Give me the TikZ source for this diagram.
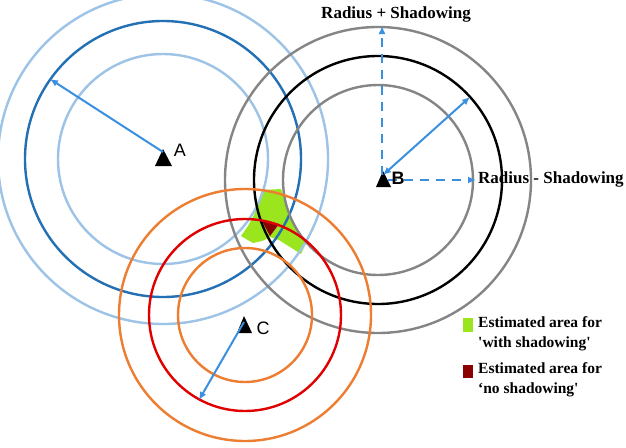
\documentclass[tikz,border=0pt]{standalone}
\usepackage{fontspec}
\setmainfont{Liberation Serif}
\newfontfamily\labelfont{Liberation Sans}
\usetikzlibrary{arrows.meta}
\definecolor{ltblue}{HTML}{9DC3E6}
\definecolor{dkblue}{HTML}{2470B4}
\definecolor{ringgray}{HTML}{858585}
\definecolor{orng}{HTML}{ED7D31}
\definecolor{rred}{HTML}{E00000}
\definecolor{arrblue}{HTML}{3B8FE0}
\definecolor{grn}{HTML}{9BE51E}
\definecolor{drd}{HTML}{8B0000}
\begin{document}
\begin{tikzpicture}[x=1pt,y=-1pt,
  ringline/.style={line width=2.4pt},
  ptr/.style={arrblue, line width=2pt, -{Latex[length=8pt,width=7pt]}},
  dptr/.style={arrblue, line width=2pt, {Latex[length=8pt,width=7pt]}-{Latex[length=8pt,width=7pt]}},
  dashptr/.style={arrblue, line width=2pt, dash pattern=on 9pt off 7pt, -{Latex[length=8pt,width=7pt]}},
  sitelabel/.style={font=\labelfont\fontsize{18}{18}\selectfont, inner sep=0pt},
  bigtext/.style={font=\bfseries\fontsize{17}{17}\selectfont, inner sep=0pt},
  legtext/.style={font=\bfseries\fontsize{15.5}{15.5}\selectfont, inner sep=0pt, anchor=base west},
  marker/.style={fill=black}
]
\useasboundingbox (0,0) rectangle (626,447);
\clip (0,0) rectangle (626,447);
\fill[white] (0,0) rectangle (626,447);

\coordinate (A) at (163,159);
\coordinate (B) at (378,180);
\coordinate (C) at (245,315);

% estimated areas
\fill[grn] (262,190) -- (281,189) -- (286,202) -- (290,217) -- (297,229) -- (306,243) -- (301,254)
  -- (290,247) -- (279,240) -- (270,237) -- (262,241) -- (253,243) -- (241,236) -- (248,226)
  -- (254,215) -- (258,202) -- cycle;
\fill[drd] (262,221) -- (279,224) -- (270,236) -- cycle;

% rings of A
\draw[ringline, ltblue] (A) circle[radius=165pt];
\draw[ringline, dkblue] (A) circle[radius=138pt];
\draw[ringline, ltblue] (A) circle[radius=105pt];
% rings of B
\draw[ringline, ringgray] (B) circle[radius=153pt];
\draw[ringline, black] (B) circle[radius=124pt];
\draw[ringline, ringgray] (B) circle[radius=95pt];
% rings of C
\draw[ringline, orng] (C) circle[radius=126pt];
\draw[ringline, rred] (C) circle[radius=96pt];
\draw[ringline, orng] (C) circle[radius=67pt];

% markers
\fill[marker] (163,149) -- (172,166) -- (155,166) -- cycle;
\fill[marker] (383,171) -- (391,187) -- (376,187) -- cycle;
\fill[marker] (244,316) -- (252,333) -- (237,333) -- cycle;

% radius arrows
\coordinate (Atip) at (50,79);
\coordinate (Afoot) at (163,152);
\draw[ptr] (Afoot) -- (Atip);
\coordinate (Ctip) at (199,400);
\coordinate (Cfoot) at (244,322);
\draw[ptr] (Cfoot) -- (Ctip);
\coordinate (Btip) at (470,97);
\coordinate (Bfoot) at (383,175);
\draw[dptr] (Bfoot) -- (Btip);

% shadowing arrows
\coordinate (Bup) at (382,175);
\coordinate (Buptip) at (382,26);
\draw[dashptr] (Bup) -- (Buptip);
\coordinate (Bright) at (388,180);
\coordinate (Brighttip) at (476,180);
\draw[dashptr] (Bright) -- (Brighttip);

% labels
\node[sitelabel] (labA) at (180,150) {A};
\node[sitelabel, font=\labelfont\bfseries\fontsize{18}{18}\selectfont] (labB) at (398,178) {B};
\node[sitelabel] (labC) at (263,328) {C};
\node[bigtext] (plus) at (396,14) {Radius + Shadowing};
\node[bigtext, anchor=west] (minus) at (478,179) {Radius - Shadowing};

% legend
\fill[grn] (463,318) rectangle (473,332);
\fill[drd] (463,365) rectangle (473,378);
\node[legtext] (leg1) at (478,327) {Estimated area for};
\node[legtext] (leg2) at (478,347) {\textquotesingle with shadowing\textquotesingle};
\node[legtext] (leg3) at (478,373) {Estimated area for};
\node[legtext] (leg4) at (478,393) {‘no shadowing\textquotesingle};
\end{tikzpicture}
\end{document}
